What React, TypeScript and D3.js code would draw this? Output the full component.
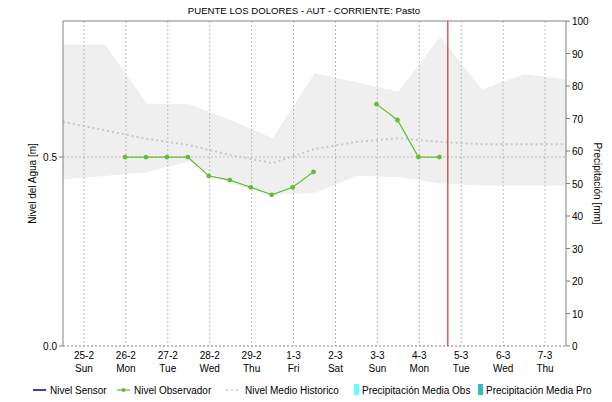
import React from "react";
import * as d3 from "d3";

const title = "PUENTE LOS DOLORES - AUT - CORRIENTE: Pasto";
const dayLabels = ["25-2", "26-2", "27-2", "28-2", "29-2", "1-3", "2-3", "3-3", "4-3", "5-3", "6-3", "7-3"];
const weekdayLabels = ["Sun", "Mon", "Tue", "Wed", "Thu", "Fri", "Sat", "Sun", "Mon", "Tue", "Wed", "Thu"];
const leftTicks = [0, 0.5];
const rightTicks = [0, 10, 20, 30, 40, 50, 60, 70, 80, 90, 100];

// historical band and mean, at each midnight from 25-2 to 8-3
const histTimes = [
  "2024-02-25T00:00", "2024-02-26T00:00", "2024-02-27T00:00", "2024-02-28T00:00", "2024-02-29T00:00",
  "2024-03-01T00:00", "2024-03-02T00:00", "2024-03-03T00:00", "2024-03-04T00:00", "2024-03-05T00:00",
  "2024-03-06T00:00", "2024-03-07T00:00", "2024-03-08T00:00",
];
const histUpper = [0.798, 0.798, 0.642, 0.64, 0.598, 0.55, 0.722, 0.698, 0.673, 0.818, 0.679, 0.719, 0.706];
const histLower = [0.441, 0.45, 0.46, 0.488, 0.43, 0.4, 0.405, 0.45, 0.447, 0.43, 0.425, 0.425, 0.425];
const histMean = [0.593, 0.571, 0.548, 0.532, 0.505, 0.484, 0.521, 0.54, 0.55, 0.54, 0.534, 0.534, 0.534];

// observer readings (null = missing)
const obsTimes = [
  "2024-02-26T11:30", "2024-02-26T23:30", "2024-02-27T11:30", "2024-02-27T23:30",
  "2024-02-28T11:30", "2024-02-28T23:30", "2024-02-29T11:30", "2024-02-29T23:30",
  "2024-03-01T11:30", "2024-03-01T23:30", "2024-03-02T11:30", "2024-03-02T23:30",
  "2024-03-03T11:30", "2024-03-03T23:30", "2024-03-04T11:30", "2024-03-04T23:30",
];
const obsValues: (number | null)[] = [
  0.5, 0.5, 0.5, 0.5, 0.45, 0.439, 0.42, 0.4, 0.42, 0.461, null, null, 0.64, 0.598, 0.5, 0.5,
];
const nowTime = "2024-03-05T04:20";

const legendLabels = ["Nivel Sensor", "Nivel Observador", "Nivel Medio Historico", "Precipitación Media Obs", "Precipitación Media Pro"];
const legendKinds = ["line", "dotline", "dash", "rect", "rect"];
const legendColors = ["#000080", "#66bb33", "#c8c8c8", "#66ffff", "#33bbbb"];

const W = 612, H = 402;
const M = { left: 63, right: 566, top: 21, bottom: 346 };
const FONT = "'Liberation Sans', Arial, sans-serif";
// legend layout (symbol start x)
const LEGEND_SYM_X = [33, 117, 226, 354, 478];
const LEGEND_Y = 390;

export default function App() {
  const parse = (s: string) => new Date(s);
  const x = d3.scaleTime()
    .domain([parse("2024-02-25T00:00"), parse("2024-03-08T00:00")])
    .range([M.left, M.right]);
  const yL = d3.scaleLinear().domain([0, 0.86]).range([M.bottom, M.top]);
  const yR = d3.scaleLinear().domain([0, 100]).range([M.bottom, M.top]);

  const hist = histTimes.map((t, i) => ({ t: parse(t), lo: histLower[i], hi: histUpper[i], m: histMean[i] }));
  const area = d3.area<any>().x(d => x(d.t)).y0(d => yL(d.lo)).y1(d => yL(d.hi))(hist) || "";
  const meanLine = d3.line<any>().x(d => x(d.t)).y(d => yL(d.m))(hist) || "";
  const obs = obsTimes.map((t, i) => ({ t: parse(t), v: obsValues[i] }));
  const obsLine = d3.line<any>().defined(d => d.v != null).x(d => x(d.t)).y(d => yL(d.v))(obs) || "";

  const tickDates = dayLabels.map((_, i) => d3.timeHour.offset(parse("2024-02-25T12:00"), i * 24));

  return (
    <svg width={W} height={H} style={{ position: "absolute", left: 0, top: 0, background: "#fff" }} fontFamily={FONT}>
      <text x={304} y={14} fontSize={9.6} textAnchor="middle" fill="#000">{title}</text>
      <path d={area} fill="#efefef" />
      {tickDates.map((d, i) => (
        <line key={i} x1={x(d)} x2={x(d)} y1={M.top} y2={M.bottom} stroke="#bdbdbd" strokeDasharray="2,2" />
      ))}
      {leftTicks.map((v, i) => (
        <line key={i} x1={M.left} x2={M.right} y1={yL(v)} y2={yL(v)} stroke={v === 0 ? "#808080" : "#bdbdbd"} strokeDasharray="2,2" />
      ))}
      <path d={meanLine} fill="none" stroke="#c8c8c8" strokeWidth={2} strokeDasharray="2,3" />
      <path d={obsLine} fill="none" stroke="#66bb33" strokeWidth={1.2} />
      {obs.filter(d => d.v != null).map((d, i) => (
        <circle key={i} cx={x(d.t)} cy={yL(d.v as number)} r={2.4} fill="#66bb33" />
      ))}
      <line x1={x(parse(nowTime))} x2={x(parse(nowTime))} y1={M.top} y2={M.bottom} stroke="#cc3333" strokeWidth={1.2} />
      {/* frame */}
      <line x1={M.left} x2={M.right} y1={M.top} y2={M.top} stroke="#808080" />
      <line x1={M.left} x2={M.left} y1={M.top} y2={M.bottom} stroke="#808080" />
      <line x1={M.right} x2={M.right} y1={M.top} y2={M.bottom} stroke="#808080" />
      {/* left axis */}
      {leftTicks.map((v, i) => (
        <g key={i}>
          <line x1={M.left - 4} x2={M.left} y1={yL(v)} y2={yL(v)} stroke="#808080" />
          <text x={M.left - 6} y={yL(v) + 4} fontSize={10} textAnchor="end" fill="#000">{v.toFixed(1)}</text>
        </g>
      ))}
      {/* right axis */}
      {rightTicks.map((v, i) => (
        <g key={i}>
          <line x1={M.right} x2={M.right + 4} y1={yR(v)} y2={yR(v)} stroke="#808080" />
          <text x={M.right + 6} y={yR(v) + 4} fontSize={10} textAnchor="start" fill="#000">{v}</text>
        </g>
      ))}
      {/* x axis labels */}
      {tickDates.map((d, i) => (
        <g key={i}>
          <text x={x(d)} y={359} fontSize={10} textAnchor="middle" fill="#000">{dayLabels[i]}</text>
          <text x={x(d)} y={372} fontSize={10} textAnchor="middle" fill="#000">{weekdayLabels[i]}</text>
        </g>
      ))}
      <text transform={`translate(36,${(M.top + M.bottom) / 2}) rotate(-90)`} fontSize={10} textAnchor="middle" fill="#000">Nivel del Agua [m]</text>
      <text transform={`translate(594,${(M.top + M.bottom) / 2}) rotate(90)`} fontSize={10} textAnchor="middle" fill="#000">Precipitación [mm]</text>
      {/* legend */}
      {legendLabels.map((label, i) => {
        const kind = legendKinds[i];
        const color = legendColors[i];
        const sx = LEGEND_SYM_X[i];
        const symW = kind === "rect" ? 5 : 13;
        const gap = kind === "rect" ? 3 : kind === "dash" ? 6 : 4;
        return (
          <g key={i}>
            {kind === "line" && <line x1={sx} x2={sx + symW} y1={LEGEND_Y} y2={LEGEND_Y} stroke={color} strokeWidth={1.5} />}
            {kind === "dotline" && (
              <g>
                <line x1={sx} x2={sx + symW} y1={LEGEND_Y} y2={LEGEND_Y} stroke={color} strokeWidth={1.2} />
                <circle cx={sx + symW / 2} cy={LEGEND_Y} r={2} fill={color} />
              </g>
            )}
            {kind === "dash" && <line x1={sx} x2={sx + symW} y1={LEGEND_Y} y2={LEGEND_Y} stroke={color} strokeWidth={1.5} strokeDasharray="2,3" />}
            {kind === "rect" && <rect x={sx} y={LEGEND_Y - 6} width={symW} height={11} fill={color} />}
            <text x={sx + symW + gap} y={LEGEND_Y + 4} fontSize={10} fill="#000">{label}</text>
          </g>
        );
      })}
    </svg>
  );
}
